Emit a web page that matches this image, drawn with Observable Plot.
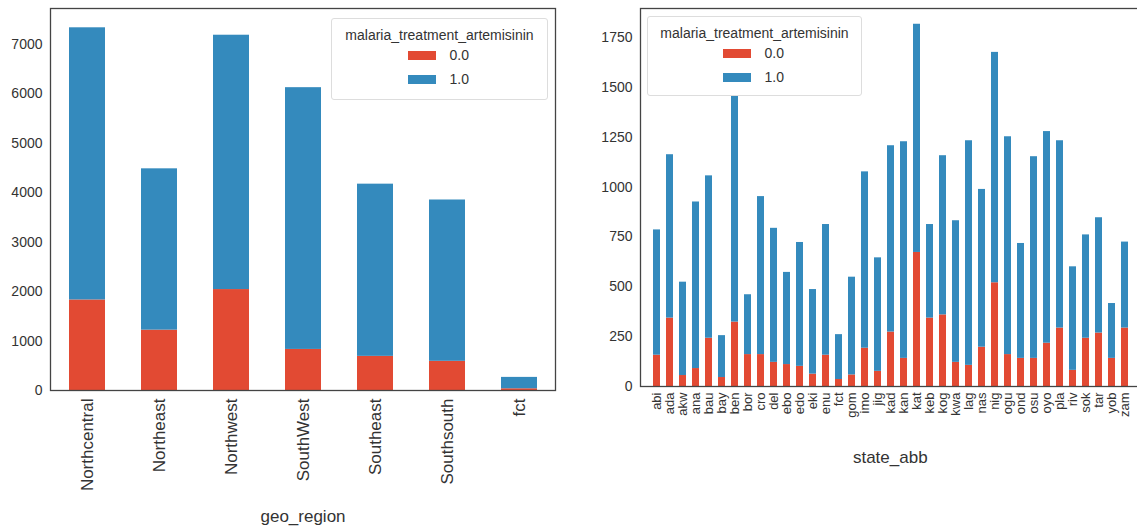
<!DOCTYPE html>
<html>
<head>
<meta charset="utf-8">
<script src="https://cdn.jsdelivr.net/npm/d3@7"></script>
<script src="https://cdn.jsdelivr.net/npm/@observablehq/plot@0.6"></script>
<style>
  html, body { margin: 0; padding: 0; background: #fff; }
  #wrap { position: relative; width: 1137px; height: 529px; overflow: hidden; font-family: "Liberation Sans", Arial, sans-serif; }
  #left { position: absolute; left: 0; top: 0; }
  #right { position: absolute; left: 590px; top: 0; width: 560px; }
  #wrap svg { max-width: none !important; }
  .legend { position: absolute; background: #fff; border: 1px solid #ddd; border-radius: 3px; box-sizing: border-box; color: #333; font-size: 14px; }
  .legend .title { text-align: center; margin-top: 8px; }
  .legend .row { display: flex; align-items: center; height: 24px; }
  .legend .sw { width: 28px; height: 9px; margin-right: 14px; }
</style>
</head>
<body>
<div id="wrap">
  <div id="left"></div>
  <div id="right"></div>
</div>
<script>
// ---- data ----
const treatLevels = ["0.0", "1.0"];
const treatColors = ["#E24A33", "#348ABD"];

const regions = ["Northcentral", "Northeast", "Northwest", "SouthWest", "Southeast", "Southsouth", "fct"];
const regionNo  = [1830, 1220, 2040, 830, 690, 590, 35];
const regionYes = [5500, 3260, 5140, 5290, 3480, 3260, 230];

const states = ["abi","ada","akw","ana","bau","bay","ben","bor","cro","del","ebo","edo","eki","enu","fct","gom","imo","jig","kad","kan","kat","keb","kog","kwa","lag","nas","nig","ogu","ond","osu","oyo","pla","riv","sok","tar","yob","zam"];
const stateTotal = [785,1162,523,925,1056,255,1469,460,952,793,572,722,486,812,260,548,1076,645,1207,1227,1816,812,1157,831,1232,988,1675,1252,717,1152,1278,1232,600,760,846,416,724];
const stateNo = [157,343,55,90,242,45,323,160,160,121,110,101,62,157,35,58,192,76,273,141,672,343,359,121,106,197,520,160,141,141,217,293,81,242,268,141,293];

const leftTicks = [0, 1000, 2000, 3000, 4000, 5000, 6000, 7000];
const rightTicks = [0, 250, 500, 750, 1000, 1250, 1500, 1750];

// ---- build tables ----
function table(cats, no, yes) {
  const rows = [];
  cats.forEach((c, i) => rows.push({cat: c, treat: treatLevels[0], n: no[i]}));
  cats.forEach((c, i) => rows.push({cat: c, treat: treatLevels[1], n: yes[i]}));
  return rows;
}
const leftData = table(regions, regionNo, regionYes);
const rightData = table(states, stateNo, stateTotal.map((t, i) => t - stateNo[i]));

const font = "'Liberation Sans', Arial, sans-serif";

function chart({data, cats, width, frameW, height, marginBottom, yMax, ticks, label, labelDy, tickFont, tickPad}) {
  return Plot.plot({
    width, height,
    marginLeft: 50, marginRight: width - 50 - frameW, marginTop: 8, marginBottom,
    style: {fontFamily: font, fontSize: "14px", color: "#333", background: "#fff", maxWidth: "none"},
    x: {domain: cats, paddingInner: 0.5, paddingOuter: 0.25, label: null},
    y: {domain: [0, yMax], label: null},
    color: {domain: treatLevels, range: treatColors},
    marks: [
      Plot.barY(data, {x: "cat", y: "n", fill: "treat"}),
      Plot.axisY({ticks, tickSize: 0, tickPadding: 8, tickFormat: d3.format("d"), label: null, fontSize: 14}),
      Plot.axisX({tickSize: 0, tickPadding: tickPad, tickRotate: -90, label: null, fontSize: tickFont}),
      Plot.text([label], {frameAnchor: "bottom", dy: labelDy, lineAnchor: "bottom", fontSize: 17, fill: "#333"}),
      Plot.frame({stroke: "#444", strokeWidth: 1.3})
    ]
  });
}

document.getElementById("left").append(chart({
  data: leftData, cats: regions, width: 565, frameW: 505, height: 529, marginBottom: 139,
  yMax: 7720, ticks: leftTicks, label: "geo_region", labelDy: 131, tickFont: 17, tickPad: 8
}));
document.getElementById("right").append(chart({
  data: rightData, cats: states, width: 560, frameW: 499.5, height: 529, marginBottom: 143,
  yMax: 1895, ticks: rightTicks, label: "state_abb", labelDy: 76, tickFont: 13, tickPad: 6
}));

function legend(left, top, w, h) {
  const d = document.createElement("div");
  d.className = "legend";
  Object.assign(d.style, {left: left + "px", top: top + "px", width: w + "px", height: h + "px"});
  const t = document.createElement("div");
  t.className = "title";
  t.textContent = "malaria_treatment_artemisinin";
  d.append(t);
  treatLevels.forEach((lv, i) => {
    const r = document.createElement("div");
    r.className = "row";
    r.style.paddingLeft = (w / 2 - 33) + "px";
    const sw = document.createElement("span");
    sw.className = "sw";
    sw.style.background = treatColors[i];
    const tx = document.createElement("span");
    tx.textContent = lv;
    r.append(sw, tx);
    d.append(r);
  });
  document.getElementById("wrap").append(d);
}
legend(331, 18, 217, 82);
legend(647, 16, 215, 80);
</script>
</body>
</html>
